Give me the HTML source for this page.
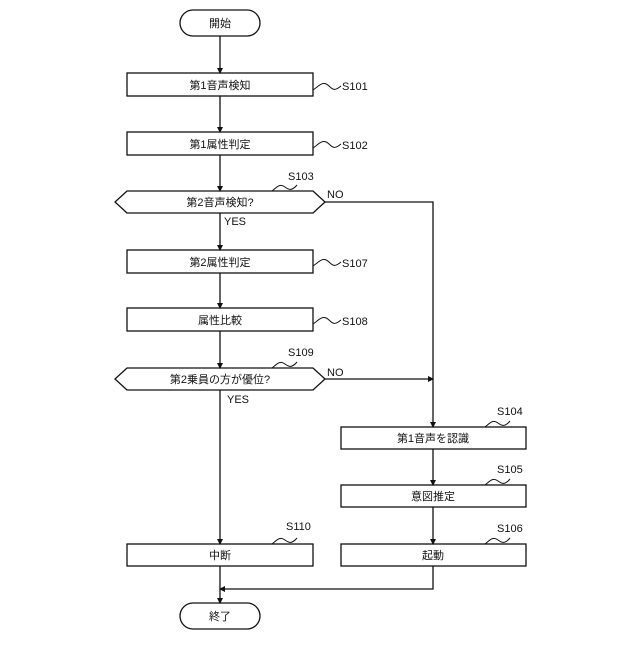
<!DOCTYPE html>
<html><head><meta charset="utf-8"><style>
body{margin:0;background:#fff}
text{font-family:"Liberation Sans","Noto Sans CJK JP",sans-serif;font-size:11px;fill:#111}
</style></head><body>
<svg width="640" height="640" viewBox="0 0 640 640" xmlns="http://www.w3.org/2000/svg">
<defs><marker id="a" markerWidth="6" markerHeight="6" refX="5" refY="3" orient="auto" markerUnits="userSpaceOnUse"><path d="M0,0 L6,3 L0,6z" fill="#111"/></marker></defs>
<g fill="none" stroke="#111" stroke-width="1.3">
<rect x="180" y="10" width="80" height="26" rx="13"/>
<rect x="127" y="73" width="186" height="23"/>
<rect x="127" y="132" width="186" height="23"/>
<path d="M127,191 L313,191 L325,202 L313,213 L127,213 L115,202Z"/>
<rect x="127" y="250" width="186" height="23"/>
<rect x="127" y="308" width="186" height="23"/>
<path d="M127,368 L313,368 L325,379 L313,390 L127,390 L115,379Z"/>
<rect x="341" y="427" width="185" height="22"/>
<rect x="341" y="485" width="185" height="22"/>
<rect x="341" y="544" width="185" height="22"/>
<rect x="127" y="544" width="186" height="22"/>
<rect x="180" y="603" width="80" height="26" rx="13"/>
<g marker-end="url(#a)">
<line x1="220" y1="36" x2="220" y2="73"/>
<line x1="220" y1="96" x2="220" y2="132"/>
<line x1="220" y1="155" x2="220" y2="191"/>
<line x1="220" y1="213" x2="220" y2="250"/>
<line x1="220" y1="273" x2="220" y2="308"/>
<line x1="220" y1="331" x2="220" y2="368"/>
<line x1="220" y1="390" x2="220" y2="544"/>
<line x1="220" y1="566" x2="220" y2="603"/>
<polyline points="325,202 433,202 433,427"/>
<line x1="325" y1="379" x2="433" y2="379"/>
<line x1="433" y1="449" x2="433" y2="485"/>
<line x1="433" y1="507" x2="433" y2="544"/>
<polyline points="433,566 433,589 220,589"/>
</g>
<g stroke-width="1">
<path d="M313,90 c6,-4 10,-10 16,-4 c4,4 6,5 12,0"/>
<path d="M313,148 c6,-4 10,-10 16,-4 c4,4 6,5 12,0"/>
<path d="M272,191 c5,-4 8,-8 13,-4 c4,3 7,4 12,-2"/>
<path d="M313,266 c6,-4 10,-10 16,-4 c4,4 6,5 12,0"/>
<path d="M313,324 c6,-4 10,-10 16,-4 c4,4 6,5 12,0"/>
<path d="M272,368 c5,-4 8,-8 13,-4 c4,3 7,4 12,-2"/>
<path d="M485,427 c5,-4 8,-8 13,-4 c4,3 7,4 12,-2"/>
<path d="M485,485 c5,-4 8,-8 13,-4 c4,3 7,4 12,-2"/>
<path d="M485,544 c5,-4 8,-8 13,-4 c4,3 7,4 12,-2"/>
<path d="M272,544 c5,-4 8,-8 13,-4 c4,3 7,4 12,-2"/>
</g>
</g>
<g text-anchor="middle">
<text x="220" y="27">開始</text>
<text x="220" y="89">第1音声検知</text>
<text x="220" y="148">第1属性判定</text>
<text x="220" y="206">第2音声検知?</text>
<text x="220" y="266">第2属性判定</text>
<text x="220" y="324">属性比較</text>
<text x="220" y="383">第2乗員の方が優位?</text>
<text x="433" y="442">第1音声を認識</text>
<text x="433" y="500">意図推定</text>
<text x="433" y="559">起動</text>
<text x="220" y="559">中断</text>
<text x="220" y="620">終了</text>
</g>
<g font-size="10">
<text x="342" y="90">S101</text>
<text x="342" y="149">S102</text>
<text x="288" y="180">S103</text>
<text x="342" y="267">S107</text>
<text x="342" y="325">S108</text>
<text x="288" y="356">S109</text>
<text x="497" y="415">S104</text>
<text x="497" y="473">S105</text>
<text x="497" y="532">S106</text>
<text x="286" y="530">S110</text>
<text x="327" y="198">NO</text>
<text x="327" y="376">NO</text>
<text x="224" y="225">YES</text>
<text x="227" y="403">YES</text>
</g>
</svg>
</body></html>
